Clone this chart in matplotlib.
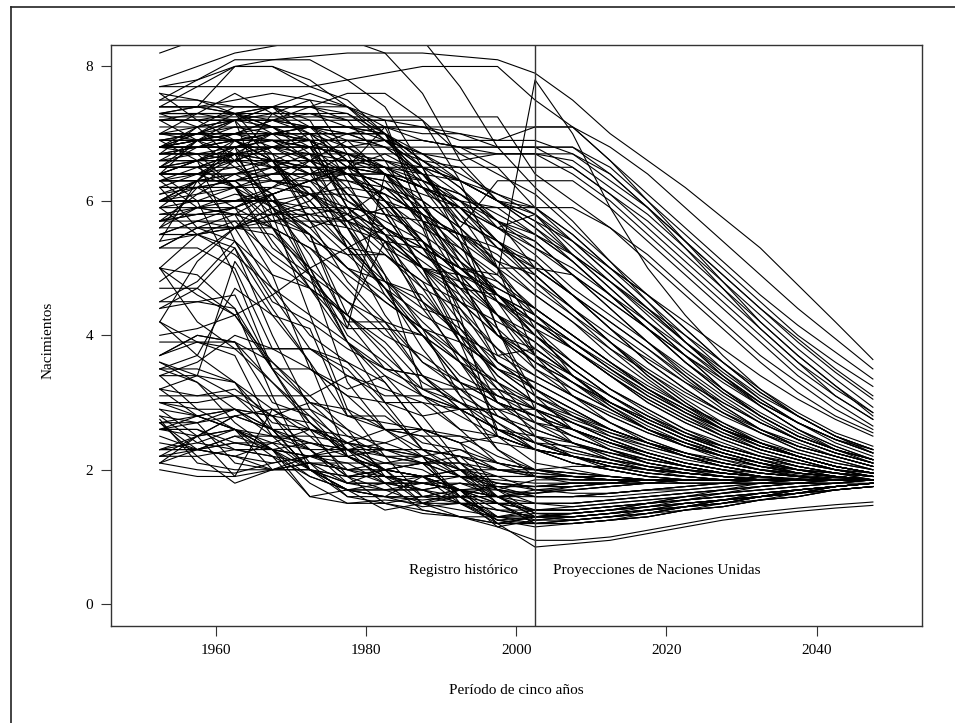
import matplotlib.pyplot as plt
from matplotlib.lines import Line2D

plt.rcParams['font.family'] = ['Liberation Serif', 'DejaVu Serif']

# five-year periods, mid-points (1950-55 ... 2045-50)
periods = [1952.5, 1957.5, 1962.5, 1967.5, 1972.5, 1977.5, 1982.5, 1987.5, 1992.5, 1997.5,
           2002.5, 2007.5, 2012.5, 2017.5, 2022.5, 2027.5, 2032.5, 2037.5, 2042.5, 2047.5]

# births per woman: 11 estimates (1950-2005) followed by 9 projections (2005-2050)
africa = [
    [7.7, 7.8, 8.0, 8.1, 8.15, 8.2, 8.2, 8.2, 8.15, 8.1, 7.9, 7.5, 7.0, 6.6, 6.2, 5.75, 5.3, 4.75, 4.2, 3.64],
    [5.6, 5.6, 5.6, 5.8, 6.0, 6.5, 7.1, 7.1, 7.1, 7.1, 7.1, 7.1, 6.8, 6.4, 5.9, 5.4, 4.9, 4.4, 3.95, 3.5],
    [6.9, 7.0, 7.1, 7.1, 7.1, 7.1, 7.1, 7.1, 6.9, 6.9, 7.1, 7.1, 6.6, 6.1, 5.6, 5.1, 4.6, 4.15, 3.75, 3.35],
    [6.5, 6.6, 6.8, 6.9, 6.9, 6.9, 6.9, 6.9, 6.8, 6.8, 6.8, 6.8, 6.5, 6.0, 5.5, 5.0, 4.5, 4.0, 3.6, 3.24],
    [6.6, 6.7, 6.8, 7.0, 7.1, 7.1, 7.1, 7.0, 7.0, 6.9, 6.9, 6.7, 6.3, 5.9, 5.4, 4.9, 4.4, 3.95, 3.5, 3.1],
    [6.0, 6.0, 6.0, 6.1, 6.3, 6.5, 6.7, 6.7, 6.7, 6.7, 6.7, 6.7, 6.4, 5.9, 5.4, 4.9, 4.4, 3.9, 3.45, 3.05],
    [6.1, 6.2, 6.3, 6.4, 6.6, 6.9, 6.9, 6.7, 6.6, 6.7, 6.7, 6.6, 6.2, 5.8, 5.3, 4.8, 4.3, 3.8, 3.35, 2.93],
    [6.8, 6.9, 7.0, 7.2, 7.3, 7.2, 7.2, 7.1, 7.0, 6.8, 6.8, 6.5, 6.1, 5.7, 5.2, 4.7, 4.2, 3.7, 3.25, 2.85],
    [6.1, 6.3, 6.4, 6.6, 6.8, 7.0, 7.1, 6.9, 6.8, 6.7, 6.7, 6.4, 6.0, 5.5, 5.0, 4.5, 4.0, 3.5, 3.1, 2.75],
    [6.8, 6.8, 6.8, 6.8, 6.8, 6.8, 6.8, 6.8, 6.8, 6.8, 6.8, 6.8, 6.4, 5.9, 5.3, 4.7, 4.1, 3.6, 3.1, 2.75],
    [5.5, 5.7, 5.9, 6.1, 6.3, 6.5, 6.5, 6.5, 6.5, 6.5, 6.5, 6.5, 6.1, 5.6, 5.1, 4.6, 4.1, 3.6, 3.2, 2.85],
    [7.25, 7.25, 7.25, 7.25, 7.25, 7.25, 7.25, 7.25, 7.25, 7.25, 6.4, 6.0, 5.6, 5.1, 4.6, 4.1, 3.6, 3.15, 2.8, 2.55],
    [7.2, 6.9, 6.9, 6.9, 6.8, 6.8, 6.9, 6.9, 6.8, 6.5, 5.9, 5.5, 5.0, 4.5, 4.0, 3.5, 3.05, 2.7, 2.4, 2.2],
    [6.9, 6.9, 6.9, 6.9, 6.9, 6.9, 6.9, 6.7, 6.4, 6.1, 5.8, 5.3, 4.8, 4.3, 3.8, 3.35, 2.95, 2.6, 2.35, 2.15],
    [6.7, 6.8, 6.8, 6.8, 6.8, 6.7, 6.6, 6.3, 6.1, 5.7, 5.0, 4.6, 4.2, 3.8, 3.4, 3.0, 2.7, 2.45, 2.25, 2.1],
    [7.5, 7.8, 8.1, 8.1, 8.1, 7.8, 7.4, 6.5, 5.4, 5.0, 5.0, 4.9, 4.5, 4.1, 3.7, 3.3, 2.95, 2.6, 2.35, 2.15],
    [7.8, 8.0, 8.2, 8.3, 8.4, 8.4, 8.2, 7.6, 6.6, 6.0, 5.7, 5.4, 5.0, 4.6, 4.1, 3.6, 3.15, 2.8, 2.5, 2.25],
    [6.8, 6.9, 7.0, 7.2, 7.4, 7.6, 7.6, 7.2, 6.7, 6.4, 6.1, 5.6, 5.1, 4.6, 4.1, 3.6, 3.15, 2.8, 2.5, 2.3],
    [6.3, 6.3, 6.4, 6.5, 6.5, 6.5, 6.4, 6.3, 6.1, 5.8, 5.5, 5.1, 4.6, 4.1, 3.6, 3.15, 2.8, 2.5, 2.3, 2.15],
    [6.8, 7.0, 7.2, 7.4, 7.4, 7.3, 6.9, 6.5, 6.3, 6.0, 5.7, 5.2, 4.7, 4.2, 3.7, 3.2, 2.8, 2.5, 2.3, 2.15],
    [7.3, 7.3, 7.3, 7.3, 7.3, 7.1, 6.9, 6.5, 6.1, 5.7, 5.4, 4.9, 4.4, 3.9, 3.4, 2.95, 2.6, 2.35, 2.2, 2.05],
    [5.7, 5.8, 5.9, 6.2, 6.4, 6.4, 6.4, 6.2, 5.9, 5.4, 4.9, 4.4, 3.9, 3.45, 3.05, 2.7, 2.4, 2.2, 2.05, 1.95],
    [6.4, 6.9, 6.9, 6.9, 6.9, 6.5, 6.4, 5.8, 5.1, 4.7, 4.4, 4.0, 3.6, 3.2, 2.85, 2.55, 2.3, 2.15, 2.0, 1.9],
    [6.8, 7.1, 7.4, 7.4, 7.4, 7.4, 6.9, 6.4, 5.7, 5.4, 5.1, 4.6, 4.1, 3.6, 3.2, 2.85, 2.55, 2.3, 2.15, 2.0],
    [6.4, 6.6, 6.9, 7.0, 7.0, 7.0, 6.8, 6.4, 5.9, 5.4, 5.0, 4.6, 4.1, 3.7, 3.3, 2.9, 2.6, 2.35, 2.2, 2.05],
    [6.7, 6.7, 6.7, 6.7, 6.7, 6.4, 6.0, 5.6, 5.3, 4.9, 4.4, 4.0, 3.6, 3.2, 2.9, 2.6, 2.35, 2.2, 2.05, 1.95],
    [6.8, 7.0, 7.3, 7.4, 7.4, 7.2, 6.6, 5.7, 4.8, 4.0, 3.6, 3.2, 2.9, 2.6, 2.35, 2.2, 2.05, 1.95, 1.9, 1.85],
    [6.5, 6.5, 6.2, 5.7, 5.5, 5.0, 4.6, 4.0, 3.3, 3.0, 2.8, 2.6, 2.4, 2.25, 2.1, 2.0, 1.95, 1.9, 1.88, 1.85],
    [6.5, 6.6, 6.7, 6.6, 6.5, 6.4, 6.1, 5.4, 4.4, 3.8, 3.2, 2.9, 2.6, 2.4, 2.2, 2.05, 1.95, 1.9, 1.85, 1.85],
    [5.8, 5.8, 5.8, 5.8, 5.8, 5.7, 5.5, 5.1, 4.7, 4.3, 3.8, 3.4, 3.0, 2.7, 2.45, 2.25, 2.1, 2.0, 1.95, 1.9],
    [6.0, 6.0, 6.0, 6.2, 6.6, 6.6, 6.0, 5.4, 4.9, 4.3, 3.9, 3.4, 3.0, 2.7, 2.45, 2.25, 2.1, 1.95, 1.9, 1.85],
    [6.8, 6.8, 7.0, 7.1, 7.1, 7.1, 7.0, 6.7, 6.3, 6.0, 5.9, 5.4, 4.9, 4.4, 3.9, 3.45, 3.05, 2.7, 2.45, 2.25],
    [7.0, 7.0, 7.0, 7.0, 7.0, 7.0, 7.0, 6.6, 6.3, 6.0, 5.8, 5.4, 4.9, 4.4, 3.9, 3.4, 3.0, 2.7, 2.45, 2.25],
    [6.8, 6.9, 7.1, 7.1, 7.1, 7.1, 7.0, 6.6, 6.2, 5.6, 5.4, 4.9, 4.4, 3.9, 3.45, 3.05, 2.7, 2.45, 2.25, 2.1],
    [7.0, 7.0, 7.0, 6.8, 6.6, 6.6, 6.5, 6.2, 6.0, 5.9, 5.5, 5.1, 4.6, 4.1, 3.6, 3.2, 2.8, 2.5, 2.3, 2.15],
    [5.5, 5.5, 5.6, 5.7, 5.8, 5.9, 5.8, 5.7, 5.5, 5.3, 5.0, 4.6, 4.2, 3.8, 3.35, 2.95, 2.6, 2.35, 2.2, 2.05],
    [4.0, 4.1, 4.3, 4.6, 5.0, 5.3, 5.6, 5.3, 5.0, 4.6, 4.0, 3.6, 3.2, 2.9, 2.6, 2.35, 2.2, 2.05, 1.95, 1.9],
    [6.3, 6.4, 6.5, 6.6, 6.6, 6.4, 6.3, 6.1, 5.9, 5.6, 5.8, 5.2, 4.7, 4.2, 3.7, 3.2, 2.85, 2.55, 2.3, 2.15],
    [5.7, 5.8, 5.9, 6.1, 6.3, 6.3, 6.2, 6.0, 5.6, 6.3, 6.3, 6.3, 5.9, 5.4, 4.9, 4.4, 3.9, 3.4, 3.0, 2.65],
    [5.3, 5.6, 5.8, 6.1, 6.3, 6.4, 6.4, 6.2, 6.0, 5.6, 5.2, 4.7, 4.3, 3.9, 3.5, 3.1, 2.75, 2.45, 2.25, 2.1],
    [5.5, 5.5, 5.7, 5.7, 5.7, 5.7, 5.9, 5.9, 5.9, 5.9, 5.9, 5.9, 5.6, 5.2, 4.7, 4.2, 3.7, 3.3, 2.9, 2.6],
    [6.9, 6.9, 6.9, 6.9, 6.9, 6.5, 6.2, 5.7, 5.0, 4.5, 4.0, 3.5, 3.1, 2.75, 2.5, 2.3, 2.15, 2.0, 1.9, 1.85],
    [6.3, 5.9, 5.8, 4.9, 3.5, 3.1, 2.6, 2.2, 2.3, 2.0, 1.95, 1.9, 1.85, 1.85, 1.85, 1.85, 1.85, 1.85, 1.85, 1.85],
    [6.6, 6.9, 7.0, 7.0, 7.0, 6.6, 6.0, 5.3, 4.7, 4.0, 3.8, 3.4, 3.0, 2.7, 2.45, 2.25, 2.1, 1.95, 1.9, 1.85],
    [6.0, 6.3, 6.9, 7.0, 7.1, 7.0, 7.0, 6.3, 5.6, 5.1, 4.9, 4.4, 3.9, 3.4, 3.0, 2.65, 2.4, 2.2, 2.05, 1.95],
    [6.3, 6.5, 6.7, 6.8, 6.7, 6.6, 6.4, 6.2, 5.9, 5.3, 5.1, 4.6, 4.1, 3.6, 3.2, 2.85, 2.55, 2.3, 2.15, 2.0],
    [6.2, 6.2, 6.3, 6.5, 6.5, 6.5, 6.2, 5.9, 5.4, 4.6, 4.1, 3.8, 3.4, 3.05, 2.75, 2.5, 2.3, 2.15, 2.0, 1.9],
    [6.6, 6.6, 6.6, 6.6, 6.6, 6.6, 6.6, 6.5, 6.3, 6.1, 5.9, 5.5, 5.0, 4.6, 4.2, 3.8, 3.4, 3.05, 2.75, 2.5],
    [6.2, 6.4, 6.6, 6.8, 6.9, 6.9, 6.8, 6.6, 6.2, 5.7, 5.3, 4.9, 4.5, 4.1, 3.7, 3.35, 3.0, 2.7, 2.45, 2.25],
    [7.0, 7.1, 7.2, 7.2, 7.1, 7.0, 6.8, 6.4, 6.0, 5.4, 4.8, 4.4, 4.0, 3.65, 3.3, 3.0, 2.7, 2.45, 2.25, 2.1],
    [6.0, 6.1, 6.2, 6.4, 6.4, 6.5, 6.5, 6.4, 6.3, 6.0, 5.6, 5.2, 4.8, 4.35, 3.9, 3.5, 3.1, 2.8, 2.5, 2.3],
    [5.8, 5.9, 6.0, 6.0, 6.1, 6.1, 6.0, 5.8, 5.5, 5.2, 4.7, 4.3, 3.9, 3.5, 3.15, 2.85, 2.6, 2.4, 2.2, 2.05],
    [7.1, 7.1, 7.1, 7.0, 6.9, 6.7, 6.5, 6.2, 5.9, 5.6, 5.3, 5.0, 4.6, 4.2, 3.8, 3.4, 3.0, 2.7, 2.45, 2.3],
    [6.9, 6.9, 6.9, 6.9, 6.8, 6.7, 6.5, 6.3, 6.0, 5.7, 5.5, 5.2, 4.8, 4.4, 4.0, 3.6, 3.2, 2.85, 2.55, 2.35],
    [6.3, 6.3, 6.3, 6.4, 6.4, 6.3, 6.1, 5.8, 5.5, 5.1, 4.6, 4.2, 3.8, 3.45, 3.1, 2.8, 2.55, 2.35, 2.2, 2.05],
    [5.4, 5.5, 5.6, 5.8, 5.9, 5.9, 5.8, 5.5, 5.1, 4.6, 4.2, 3.8, 3.45, 3.1, 2.8, 2.55, 2.35, 2.2, 2.05, 1.95],
    [4.8, 5.2, 5.6, 5.9, 6.1, 6.2, 6.1, 5.8, 5.3, 4.8, 4.4, 4.0, 3.6, 3.25, 2.95, 2.7, 2.45, 2.25, 2.1, 2.0],
    [6.6, 6.6, 6.6, 6.5, 6.3, 6.0, 5.7, 5.4, 5.0, 4.6, 4.3, 3.9, 3.5, 3.15, 2.85, 2.6, 2.4, 2.25, 2.1, 2.0],
]

west_south_asia = [
    [8.2, 8.4, 8.5, 8.6, 8.7, 8.7, 8.7, 8.4, 7.7, 6.8, 6.2, 5.7, 5.1, 4.5, 3.9, 3.4, 2.95, 2.6, 2.3, 2.1],
    [7.7, 7.7, 7.7, 7.7, 7.7, 7.8, 7.9, 8.0, 8.0, 8.0, 7.5, 7.1, 6.6, 6.0, 5.4, 4.8, 4.2, 3.7, 3.25, 2.8],
    [7.2, 7.2, 7.2, 7.3, 7.3, 7.3, 7.0, 6.2, 5.5, 4.5, 4.1, 3.4, 2.95, 2.6, 2.35, 2.15, 2.0, 1.9, 1.85, 1.85],
    [7.2, 7.2, 7.2, 7.2, 7.2, 7.2, 7.2, 7.2, 6.3, 5.0, 3.7, 3.1, 2.7, 2.4, 2.2, 2.05, 1.95, 1.9, 1.85, 1.85],
    [7.4, 7.7, 8.0, 8.0, 7.8, 7.4, 7.0, 6.0, 5.1, 4.3, 3.5, 3.1, 2.8, 2.55, 2.35, 2.2, 2.05, 1.95, 1.9, 1.85],
    [7.3, 7.4, 7.5, 7.6, 7.5, 7.4, 7.1, 6.0, 4.8, 4.0, 3.5, 3.2, 2.9, 2.6, 2.4, 2.2, 2.05, 1.95, 1.9, 1.85],
    [7.3, 7.3, 7.2, 7.2, 7.1, 6.8, 6.4, 6.2, 5.7, 5.4, 4.9, 4.4, 3.9, 3.4, 3.0, 2.65, 2.4, 2.2, 2.05, 1.95],
    [7.0, 7.0, 6.9, 6.7, 6.4, 6.5, 6.4, 5.6, 4.3, 2.5, 2.1, 2.0, 1.9, 1.85, 1.8, 1.8, 1.8, 1.8, 1.8, 1.85],
    [6.6, 6.6, 6.6, 6.6, 6.6, 6.6, 6.6, 6.4, 5.8, 5.0, 4.3, 3.9, 3.5, 3.15, 2.85, 2.6, 2.4, 2.2, 2.05, 1.95],
    [6.4, 6.6, 6.8, 6.9, 6.6, 6.4, 5.9, 5.0, 4.0, 3.5, 3.2, 2.8, 2.5, 2.3, 2.15, 2.05, 1.95, 1.9, 1.85, 1.85],
    [5.9, 5.9, 5.8, 5.6, 5.3, 4.9, 4.5, 4.1, 3.9, 3.5, 3.1, 2.8, 2.55, 2.35, 2.2, 2.05, 1.95, 1.9, 1.85, 1.85],
    [6.0, 6.0, 6.0, 6.0, 5.9, 5.8, 5.6, 5.3, 5.0, 4.5, 3.7, 3.3, 2.95, 2.65, 2.4, 2.2, 2.05, 1.95, 1.9, 1.85],
    [6.4, 6.6, 6.7, 6.6, 5.9, 5.3, 5.2, 4.7, 3.9, 3.5, 3.3, 3.0, 2.7, 2.45, 2.25, 2.1, 2.0, 1.92, 1.88, 1.85],
    [7.2, 7.2, 7.2, 7.1, 6.9, 5.9, 5.4, 4.4, 3.7, 3.0, 2.8, 2.5, 2.3, 2.15, 2.05, 1.95, 1.9, 1.85, 1.85, 1.85],
    [7.3, 7.4, 7.4, 7.4, 7.2, 6.3, 5.3, 4.5, 3.6, 2.8, 2.5, 2.4, 2.25, 2.1, 2.0, 1.95, 1.9, 1.85, 1.85, 1.85],
    [6.9, 7.0, 7.2, 6.6, 5.7, 5.6, 4.9, 4.1, 3.1, 2.3, 2.0, 1.9, 1.85, 1.8, 1.8, 1.8, 1.8, 1.8, 1.8, 1.8],
    [6.9, 6.9, 7.2, 7.4, 7.6, 7.4, 7.2, 5.7, 4.1, 3.4, 3.0, 2.7, 2.45, 2.25, 2.1, 2.0, 1.9, 1.85, 1.85, 1.85],
    [7.2, 7.2, 7.3, 7.4, 6.9, 5.9, 4.9, 3.2, 3.2, 2.9, 2.4, 2.2, 2.1, 2.0, 1.95, 1.9, 1.85, 1.85, 1.85, 1.85],
    [7.0, 7.0, 6.9, 6.6, 6.4, 5.7, 5.2, 4.8, 3.9, 3.2, 2.5, 2.3, 2.15, 2.05, 1.95, 1.9, 1.85, 1.85, 1.85, 1.85],
    [7.0, 7.0, 7.0, 6.9, 6.8, 6.1, 5.5, 4.5, 4.0, 3.4, 3.0, 2.7, 2.45, 2.25, 2.1, 2.0, 1.9, 1.85, 1.85, 1.85],
    [7.4, 7.4, 8.0, 8.0, 7.7, 7.5, 7.0, 6.6, 6.5, 6.0, 5.6, 5.1, 4.6, 4.1, 3.6, 3.15, 2.8, 2.5, 2.3, 2.15],
    [7.0, 7.0, 7.0, 7.0, 7.0, 7.0, 7.0, 6.5, 5.6, 4.1, 3.1, 2.6, 2.3, 2.1, 2.0, 1.9, 1.85, 1.85, 1.85, 1.85],
    [6.7, 6.7, 6.7, 6.7, 6.7, 6.7, 6.4, 5.9, 5.4, 4.1, 2.9, 2.4, 2.15, 2.0, 1.9, 1.85, 1.85, 1.85, 1.85, 1.85],
    [6.9, 6.6, 6.2, 5.6, 5.0, 4.5, 4.2, 3.4, 2.9, 2.6, 2.5, 2.3, 2.15, 2.05, 1.95, 1.9, 1.85, 1.85, 1.85, 1.85],
    [5.7, 5.7, 5.7, 5.2, 4.8, 4.3, 3.9, 3.3, 3.0, 2.7, 2.3, 2.2, 2.1, 2.0, 1.95, 1.9, 1.85, 1.85, 1.85, 1.85],
    [4.2, 3.9, 3.8, 3.8, 3.8, 3.4, 3.1, 3.1, 2.9, 2.9, 2.9, 2.7, 2.5, 2.35, 2.2, 2.1, 2.0, 1.95, 1.9, 1.85],
    [6.0, 6.3, 6.7, 6.8, 6.8, 5.9, 5.5, 5.4, 4.9, 3.7, 3.8, 3.4, 3.0, 2.7, 2.45, 2.25, 2.1, 2.0, 1.9, 1.85],
    [5.9, 6.3, 6.3, 6.3, 6.3, 5.7, 4.8, 4.4, 4.2, 3.3, 2.7, 2.4, 2.2, 2.05, 1.95, 1.9, 1.85, 1.85, 1.85, 1.85],
    [4.4, 4.5, 4.6, 3.5, 3.5, 3.1, 3.0, 3.0, 2.6, 2.1, 1.9, 1.9, 1.85, 1.85, 1.85, 1.85, 1.85, 1.85, 1.85, 1.85],
    [4.5, 4.8, 5.4, 4.9, 4.7, 4.1, 4.1, 4.0, 3.6, 3.0, 2.6, 2.4, 2.2, 2.05, 1.95, 1.9, 1.85, 1.85, 1.85, 1.85],
    [6.0, 6.3, 6.8, 6.3, 6.2, 5.3, 4.8, 4.6, 4.0, 3.0, 2.8, 2.5, 2.3, 2.1, 2.0, 1.9, 1.85, 1.85, 1.85, 1.85],
    [5.3, 5.6, 5.4, 4.6, 3.8, 3.6, 3.0, 2.8, 2.9, 2.3, 1.9, 1.8, 1.8, 1.8, 1.8, 1.8, 1.8, 1.8, 1.8, 1.85],
    [4.5, 4.5, 4.4, 3.5, 3.0, 2.5, 2.4, 2.6, 2.4, 1.7, 1.35, 1.35, 1.4, 1.5, 1.6, 1.65, 1.7, 1.75, 1.8, 1.85],
    [3.0, 2.9, 2.9, 2.6, 2.6, 2.4, 2.3, 2.3, 2.2, 1.7, 1.5, 1.45, 1.5, 1.55, 1.6, 1.65, 1.7, 1.75, 1.8, 1.85],
    [7.4, 7.4, 7.3, 7.2, 7.0, 6.6, 6.0, 5.3, 4.5, 4.0, 3.7, 3.4, 3.1, 2.8, 2.55, 2.35, 2.2, 2.05, 1.95, 1.9],
    [5.9, 6.0, 6.2, 6.3, 6.1, 5.8, 5.4, 5.0, 4.6, 4.1, 3.6, 3.3, 3.0, 2.75, 2.5, 2.3, 2.15, 2.05, 1.95, 1.9],
    [7.2, 7.3, 7.3, 7.1, 6.7, 6.2, 5.6, 4.9, 4.2, 3.5, 3.1, 2.85, 2.6, 2.4, 2.25, 2.1, 2.0, 1.95, 1.9, 1.85],
    [6.0, 6.0, 6.0, 6.0, 5.6, 5.0, 4.5, 4.1, 3.7, 3.3, 3.0, 2.75, 2.55, 2.4, 2.25, 2.15, 2.05, 2.0, 1.95, 1.9],
]

east_asia_pacific = [
    [6.4, 6.4, 6.2, 5.9, 5.5, 4.3, 5.4, 5.3, 5.0, 4.9, 7.8, 7.0, 5.9, 5.0, 4.3, 3.7, 3.2, 2.8, 2.5, 2.3],
    [6.2, 5.6, 5.6, 6.1, 4.9, 3.3, 2.6, 2.5, 2.0, 1.8, 1.7, 1.7, 1.75, 1.8, 1.85, 1.85, 1.85, 1.85, 1.85, 1.85],
    [2.75, 2.1, 2.0, 2.0, 2.1, 1.8, 1.8, 1.7, 1.5, 1.4, 1.3, 1.35, 1.4, 1.5, 1.6, 1.7, 1.8, 1.85, 1.85, 1.85],
    [5.4, 6.3, 5.6, 4.7, 4.3, 2.9, 2.2, 1.6, 1.7, 1.5, 1.2, 1.2, 1.25, 1.35, 1.45, 1.55, 1.65, 1.7, 1.75, 1.8],
    [3.4, 3.4, 5.1, 4.3, 4.1, 2.8, 2.8, 2.4, 2.3, 2.1, 2.0, 1.95, 1.9, 1.85, 1.85, 1.85, 1.85, 1.85, 1.85, 1.85],
    [5.5, 5.7, 5.6, 5.6, 5.3, 4.7, 4.1, 3.4, 2.9, 2.6, 2.4, 2.2, 2.05, 1.95, 1.9, 1.85, 1.85, 1.85, 1.85, 1.85],
    [7.3, 7.1, 6.6, 6.0, 5.5, 5.0, 4.8, 4.5, 4.1, 3.6, 3.2, 2.9, 2.6, 2.4, 2.2, 2.05, 1.95, 1.9, 1.85, 1.85],
    [5.7, 6.1, 6.4, 6.5, 6.7, 5.6, 4.6, 4.0, 3.3, 2.5, 2.3, 2.1, 2.0, 1.9, 1.85, 1.85, 1.85, 1.85, 1.85, 1.85],
    [6.4, 6.4, 6.4, 6.1, 5.0, 3.9, 3.0, 2.3, 2.0, 1.9, 1.9, 1.85, 1.85, 1.85, 1.85, 1.85, 1.85, 1.85, 1.85, 1.85],
    [6.8, 6.9, 6.7, 5.9, 5.2, 4.2, 4.2, 4.0, 3.6, 3.3, 2.9, 2.6, 2.35, 2.2, 2.05, 1.95, 1.9, 1.85, 1.85, 1.85],
    [6.0, 6.0, 6.0, 6.0, 5.8, 5.3, 4.7, 3.8, 3.1, 2.8, 2.5, 2.2, 2.0, 1.9, 1.85, 1.85, 1.85, 1.85, 1.85, 1.85],
    [6.3, 6.3, 6.3, 5.8, 5.5, 4.1, 6.4, 6.0, 5.6, 5.0, 4.1, 3.6, 3.2, 2.85, 2.55, 2.3, 2.15, 2.0, 1.9, 1.85],
    [6.4, 6.4, 6.4, 6.4, 6.4, 6.7, 6.7, 6.4, 5.8, 5.3, 4.8, 4.3, 3.8, 3.35, 2.95, 2.6, 2.35, 2.2, 2.05, 1.95],
    [6.0, 6.2, 6.6, 7.3, 7.5, 6.7, 5.8, 5.0, 3.9, 2.6, 2.3, 2.1, 2.0, 1.9, 1.85, 1.85, 1.85, 1.85, 1.85, 1.85],
    [6.4, 6.0, 4.9, 3.5, 2.6, 1.9, 1.7, 1.7, 1.8, 1.6, 1.35, 1.3, 1.35, 1.45, 1.55, 1.65, 1.75, 1.8, 1.85, 1.85],
    [4.4, 4.7, 5.3, 4.0, 2.9, 2.3, 1.8, 1.4, 1.3, 1.15, 0.95, 0.95, 1.0, 1.1, 1.2, 1.3, 1.37, 1.43, 1.48, 1.52],
    [5.0, 4.9, 4.4, 3.1, 2.0, 1.8, 2.0, 1.9, 1.7, 1.2, 0.85, 0.9, 0.95, 1.05, 1.15, 1.25, 1.32, 1.38, 1.43, 1.47],
    [5.9, 5.5, 5.2, 4.7, 4.0, 3.6, 3.3, 2.6, 2.4, 2.1, 2.0, 1.95, 1.9, 1.85, 1.85, 1.85, 1.85, 1.85, 1.85, 1.85],
    [6.2, 6.2, 6.2, 6.2, 6.1, 5.9, 5.5, 5.0, 4.7, 4.6, 4.3, 3.8, 3.4, 3.0, 2.7, 2.45, 2.25, 2.1, 2.0, 1.9],
    [7.0, 7.3, 7.6, 7.3, 7.0, 6.0, 5.6, 5.2, 4.9, 4.7, 4.4, 4.0, 3.6, 3.2, 2.9, 2.6, 2.35, 2.2, 2.05, 1.95],
    [6.4, 6.4, 6.7, 7.0, 7.1, 6.9, 6.4, 5.8, 5.0, 4.8, 4.3, 3.9, 3.5, 3.1, 2.8, 2.5, 2.3, 2.15, 2.0, 1.9],
    [6.6, 6.6, 5.4, 4.5, 4.2, 3.8, 3.5, 3.4, 3.2, 3.2, 3.0, 2.8, 2.6, 2.4, 2.25, 2.1, 2.0, 1.95, 1.9, 1.85],
    [7.6, 7.2, 6.9, 6.5, 6.1, 5.7, 5.4, 5.0, 4.9, 4.6, 4.2, 3.8, 3.4, 3.0, 2.7, 2.45, 2.25, 2.1, 2.0, 1.9],
    [6.7, 6.8, 6.9, 6.9, 6.6, 6.1, 5.6, 5.2, 4.8, 4.5, 4.2, 3.9, 3.55, 3.2, 2.9, 2.6, 2.4, 2.2, 2.05, 1.95],
    [7.6, 7.5, 7.3, 7.0, 6.6, 6.1, 5.5, 5.0, 4.5, 4.0, 3.6, 3.3, 3.0, 2.75, 2.5, 2.35, 2.2, 2.1, 2.0, 1.95],
]

latin_america = [
    [6.2, 6.2, 6.2, 5.4, 4.7, 4.3, 3.8, 3.1, 2.6, 2.5, 2.3, 2.2, 2.05, 1.95, 1.9, 1.85, 1.85, 1.85, 1.85, 1.85],
    [6.8, 6.8, 6.8, 6.8, 6.5, 5.3, 4.3, 3.6, 3.2, 2.7, 2.4, 2.2, 2.05, 1.95, 1.9, 1.85, 1.85, 1.85, 1.85, 1.85],
    [3.2, 3.1, 3.1, 3.1, 3.1, 3.4, 3.2, 3.0, 2.9, 2.6, 2.4, 2.25, 2.15, 2.05, 2.0, 1.95, 1.9, 1.87, 1.85, 1.85],
    [6.8, 6.8, 6.8, 5.6, 4.7, 4.3, 3.7, 3.2, 3.0, 2.8, 2.6, 2.4, 2.25, 2.1, 2.0, 1.95, 1.9, 1.85, 1.85, 1.85],
    [6.9, 6.9, 6.9, 6.6, 6.0, 5.4, 4.7, 4.1, 3.6, 3.1, 2.9, 2.6, 2.4, 2.2, 2.05, 1.95, 1.9, 1.85, 1.85, 1.85],
    [6.5, 6.5, 6.7, 5.9, 4.9, 4.5, 4.0, 3.7, 3.3, 3.0, 2.7, 2.5, 2.3, 2.15, 2.05, 1.95, 1.9, 1.85, 1.85, 1.85],
    [5.0, 5.5, 5.3, 4.4, 3.6, 2.8, 2.7, 2.6, 2.5, 2.2, 2.0, 1.95, 1.9, 1.85, 1.85, 1.85, 1.85, 1.85, 1.85, 1.85],
    [4.2, 3.7, 4.7, 4.3, 3.6, 2.2, 1.9, 1.8, 1.7, 1.6, 1.6, 1.6, 1.65, 1.7, 1.75, 1.8, 1.85, 1.85, 1.85, 1.85],
    [7.0, 6.9, 6.9, 6.6, 6.4, 6.4, 6.3, 5.7, 5.5, 5.0, 4.6, 4.2, 3.7, 3.3, 2.95, 2.65, 2.4, 2.2, 2.05, 1.95],
    [7.5, 7.5, 7.4, 7.4, 7.1, 6.6, 6.0, 5.4, 4.9, 4.3, 3.7, 3.3, 2.9, 2.6, 2.4, 2.2, 2.05, 1.95, 1.9, 1.85],
    [7.3, 7.3, 7.3, 7.1, 6.8, 6.4, 5.9, 5.4, 4.6, 3.6, 3.3, 3.0, 2.7, 2.45, 2.25, 2.1, 2.0, 1.9, 1.85, 1.85],
    [6.8, 6.7, 6.6, 6.6, 6.5, 5.8, 5.3, 5.0, 4.8, 4.3, 4.0, 3.5, 3.1, 2.8, 2.5, 2.3, 2.15, 2.0, 1.9, 1.85],
    [6.3, 6.3, 6.3, 5.9, 5.6, 5.8, 6.2, 5.7, 5.2, 4.6, 4.0, 3.6, 3.2, 2.9, 2.6, 2.4, 2.2, 2.05, 1.95, 1.85],
    [6.5, 6.5, 6.5, 6.1, 5.4, 5.2, 5.2, 4.8, 4.5, 4.2, 3.9, 3.5, 3.1, 2.8, 2.55, 2.35, 2.2, 2.05, 1.95, 1.85],
    [6.7, 6.7, 6.7, 6.5, 6.0, 5.4, 4.7, 4.0, 3.4, 3.1, 2.8, 2.6, 2.4, 2.2, 2.05, 1.95, 1.9, 1.85, 1.85, 1.85],
    [7.4, 7.4, 7.3, 6.7, 5.7, 4.8, 4.2, 3.6, 3.3, 3.1, 2.9, 2.7, 2.45, 2.25, 2.1, 2.0, 1.9, 1.85, 1.85, 1.85],
    [6.5, 6.8, 6.9, 6.6, 6.1, 5.6, 4.8, 4.2, 3.7, 3.2, 2.9, 2.6, 2.4, 2.2, 2.05, 1.95, 1.9, 1.85, 1.85, 1.85],
    [2.7, 2.8, 2.9, 2.8, 3.0, 2.9, 2.6, 2.5, 2.5, 2.4, 2.3, 2.2, 2.1, 2.0, 1.95, 1.9, 1.88, 1.85, 1.85, 1.85],
    [6.7, 7.1, 7.2, 5.8, 4.3, 3.9, 3.5, 3.4, 3.0, 2.6, 2.3, 2.2, 2.05, 1.95, 1.9, 1.85, 1.85, 1.85, 1.85, 1.85],
    [5.7, 5.9, 5.9, 5.6, 4.9, 4.2, 3.5, 3.2, 2.9, 2.9, 2.7, 2.6, 2.4, 2.25, 2.1, 2.0, 1.9, 1.85, 1.85, 1.85],
    [4.2, 5.1, 5.6, 5.5, 5.0, 4.0, 3.6, 3.1, 2.9, 2.6, 2.4, 2.35, 2.25, 2.15, 2.05, 1.95, 1.9, 1.85, 1.85, 1.85],
    [5.3, 5.3, 5.0, 3.8, 3.5, 3.2, 3.4, 2.8, 2.1, 1.7, 1.6, 1.6, 1.65, 1.7, 1.75, 1.8, 1.85, 1.85, 1.85, 1.85],
    [5.0, 4.6, 4.3, 3.6, 3.0, 2.8, 2.6, 2.3, 2.2, 2.0, 1.9, 1.85, 1.85, 1.85, 1.85, 1.85, 1.85, 1.85, 1.85, 1.85],
    [6.7, 6.7, 6.2, 5.3, 4.9, 3.9, 3.3, 2.6, 2.4, 2.5, 2.3, 2.2, 2.1, 2.0, 1.95, 1.9, 1.85, 1.85, 1.85, 1.85],
    [6.5, 6.9, 6.5, 6.3, 6.2, 5.6, 5.4, 4.7, 4.4, 3.6, 3.2, 2.9, 2.6, 2.4, 2.2, 2.05, 1.95, 1.9, 1.85, 1.85],
    [4.7, 4.7, 4.3, 3.5, 2.7, 2.2, 1.9, 1.8, 1.7, 1.5, 1.5, 1.5, 1.55, 1.6, 1.65, 1.7, 1.75, 1.8, 1.85, 1.85],
    [6.8, 6.8, 6.9, 7.0, 6.9, 6.5, 5.8, 5.0, 4.3, 3.8, 3.4, 3.1, 2.8, 2.55, 2.35, 2.2, 2.1, 2.0, 1.95, 1.9],
    [5.6, 5.9, 6.1, 6.0, 5.7, 5.2, 4.7, 4.3, 4.0, 3.7, 3.4, 3.1, 2.85, 2.6, 2.4, 2.25, 2.1, 2.0, 1.95, 1.9],
    [6.5, 6.5, 6.6, 6.8, 7.0, 6.8, 6.5, 5.9, 5.2, 4.6, 4.2, 3.8, 3.4, 3.05, 2.75, 2.5, 2.3, 2.15, 2.0, 1.95],
]

europe_north_america = [
    [3.5, 3.7, 3.3, 2.5, 2.0, 1.8, 1.8, 1.9, 2.0, 2.0, 2.0, 2.05, 2.05, 2.0, 1.95, 1.9, 1.85, 1.85, 1.85, 1.85],
    [3.7, 3.9, 3.7, 2.6, 2.0, 1.7, 1.6, 1.6, 1.7, 1.6, 1.5, 1.5, 1.55, 1.6, 1.65, 1.7, 1.75, 1.8, 1.85, 1.85],
    [3.2, 3.4, 3.3, 2.9, 2.5, 2.0, 1.9, 1.9, 1.9, 1.8, 1.75, 1.8, 1.8, 1.85, 1.85, 1.85, 1.85, 1.85, 1.85, 1.85],
    [3.7, 4.0, 3.9, 3.0, 2.8, 2.2, 2.0, 2.1, 2.1, 2.0, 1.95, 1.9, 1.85, 1.85, 1.85, 1.85, 1.85, 1.85, 1.85, 1.85],
    [3.4, 3.6, 4.0, 3.8, 3.8, 3.5, 2.9, 2.3, 1.9, 1.9, 1.9, 1.9, 1.85, 1.85, 1.85, 1.85, 1.85, 1.85, 1.85, 1.85],
    [2.2, 2.5, 2.8, 2.6, 2.0, 1.7, 1.8, 1.8, 1.8, 1.7, 1.65, 1.7, 1.75, 1.8, 1.85, 1.85, 1.85, 1.85, 1.85, 1.85],
    [2.7, 2.7, 2.9, 2.6, 2.3, 1.9, 1.9, 1.8, 1.7, 1.7, 1.85, 1.85, 1.85, 1.85, 1.85, 1.85, 1.85, 1.85, 1.85, 1.85],
    [2.2, 2.3, 2.5, 2.3, 1.6, 1.5, 1.5, 1.4, 1.3, 1.3, 1.35, 1.35, 1.4, 1.45, 1.5, 1.55, 1.6, 1.65, 1.7, 1.75],
    [2.3, 2.3, 2.5, 2.5, 2.3, 1.9, 1.5, 1.35, 1.3, 1.2, 1.3, 1.35, 1.4, 1.45, 1.5, 1.55, 1.65, 1.7, 1.75, 1.8],
    [2.6, 2.7, 2.8, 2.9, 2.9, 2.6, 1.9, 1.5, 1.3, 1.2, 1.3, 1.35, 1.4, 1.45, 1.5, 1.55, 1.6, 1.7, 1.75, 1.8],
    [3.0, 3.0, 3.1, 2.8, 2.7, 2.3, 2.0, 1.6, 1.5, 1.5, 1.5, 1.5, 1.55, 1.6, 1.65, 1.7, 1.75, 1.8, 1.85, 1.85],
    [2.3, 2.3, 2.2, 2.4, 2.3, 2.3, 2.0, 1.5, 1.4, 1.3, 1.25, 1.3, 1.35, 1.4, 1.5, 1.55, 1.6, 1.7, 1.75, 1.8],
    [2.2, 2.2, 2.3, 2.2, 1.9, 1.7, 1.6, 1.9, 2.0, 1.6, 1.65, 1.75, 1.8, 1.85, 1.85, 1.85, 1.85, 1.85, 1.85, 1.85],
    [2.6, 2.8, 2.9, 2.8, 2.3, 1.8, 1.7, 1.8, 1.9, 1.85, 1.8, 1.8, 1.8, 1.85, 1.85, 1.85, 1.85, 1.85, 1.85, 1.85],
    [3.1, 3.1, 3.2, 2.8, 2.1, 1.6, 1.5, 1.6, 1.6, 1.6, 1.7, 1.75, 1.8, 1.85, 1.85, 1.85, 1.85, 1.85, 1.85, 1.85],
    [2.9, 2.8, 2.6, 2.0, 2.0, 1.9, 2.0, 2.1, 1.6, 1.25, 1.3, 1.35, 1.4, 1.45, 1.5, 1.55, 1.6, 1.65, 1.7, 1.75],
    [2.8, 2.7, 2.1, 2.0, 2.1, 2.0, 2.0, 1.9, 1.6, 1.25, 1.15, 1.2, 1.25, 1.3, 1.4, 1.45, 1.55, 1.6, 1.7, 1.75],
    [3.6, 3.3, 2.7, 2.3, 2.2, 2.3, 2.3, 2.2, 1.9, 1.5, 1.25, 1.25, 1.3, 1.35, 1.45, 1.5, 1.6, 1.65, 1.75, 1.8],
    [2.7, 2.3, 2.2, 2.0, 2.2, 2.4, 2.0, 1.9, 1.7, 1.2, 1.2, 1.25, 1.3, 1.4, 1.45, 1.55, 1.6, 1.7, 1.75, 1.8],
    [2.7, 2.2, 1.8, 2.0, 2.1, 2.1, 1.8, 1.8, 1.7, 1.4, 1.3, 1.3, 1.35, 1.4, 1.5, 1.55, 1.6, 1.7, 1.75, 1.8],
    [2.9, 2.5, 1.9, 2.9, 2.6, 2.5, 2.2, 2.2, 1.5, 1.3, 1.3, 1.3, 1.35, 1.4, 1.45, 1.55, 1.6, 1.65, 1.75, 1.8],
    [2.5, 2.3, 2.2, 2.1, 2.2, 2.2, 2.0, 1.9, 1.5, 1.2, 1.2, 1.25, 1.3, 1.35, 1.45, 1.5, 1.6, 1.65, 1.75, 1.8],
    [2.6, 2.6, 2.3, 2.2, 2.1, 2.0, 2.1, 2.0, 1.7, 1.3, 1.2, 1.2, 1.25, 1.3, 1.4, 1.45, 1.55, 1.6, 1.7, 1.75],
    [2.0, 1.9, 1.9, 2.0, 2.0, 1.9, 2.0, 2.1, 1.6, 1.15, 1.25, 1.3, 1.35, 1.4, 1.45, 1.5, 1.6, 1.65, 1.75, 1.8],
    [2.1, 2.0, 1.95, 2.1, 2.2, 2.1, 2.1, 2.2, 1.6, 1.3, 1.4, 1.45, 1.5, 1.55, 1.6, 1.65, 1.7, 1.75, 1.8, 1.85],
    [2.1, 2.5, 2.8, 2.6, 2.0, 1.6, 1.6, 1.45, 1.5, 1.4, 1.4, 1.4, 1.45, 1.5, 1.55, 1.6, 1.65, 1.7, 1.75, 1.8],
    [2.3, 2.4, 2.6, 2.3, 1.8, 1.5, 1.55, 1.5, 1.5, 1.5, 1.4, 1.4, 1.45, 1.5, 1.55, 1.6, 1.65, 1.7, 1.75, 1.8],
    [2.6, 2.5, 2.6, 2.3, 2.0, 1.7, 1.4, 1.5, 1.7, 1.75, 1.75, 1.8, 1.8, 1.85, 1.85, 1.85, 1.85, 1.85, 1.85, 1.85],
    [3.0, 2.8, 2.6, 2.2, 1.6, 1.7, 1.7, 1.7, 1.8, 1.75, 1.75, 1.8, 1.8, 1.85, 1.85, 1.85, 1.85, 1.85, 1.85, 1.85],
    [2.3, 2.5, 2.6, 2.3, 1.9, 1.7, 1.6, 1.55, 1.6, 1.6, 1.65, 1.7, 1.75, 1.8, 1.85, 1.85, 1.85, 1.85, 1.85, 1.85],
    [3.2, 2.8, 2.6, 2.5, 2.4, 2.3, 2.2, 2.1, 2.1, 1.9, 1.7, 1.65, 1.65, 1.7, 1.7, 1.75, 1.8, 1.85, 1.85, 1.85],
    [5.6, 6.2, 5.9, 5.1, 4.7, 3.9, 3.4, 3.1, 2.8, 2.5, 2.3, 2.1, 2.0, 1.9, 1.85, 1.85, 1.85, 1.85, 1.85, 1.85],
    [3.5, 3.5, 3.3, 2.7, 2.6, 2.4, 2.6, 2.6, 2.1, 1.6, 1.4, 1.4, 1.45, 1.5, 1.55, 1.6, 1.65, 1.7, 1.75, 1.8],
    [2.8, 2.4, 2.3, 2.3, 2.2, 2.2, 1.9, 1.7, 1.5, 1.25, 1.2, 1.2, 1.25, 1.3, 1.4, 1.45, 1.55, 1.6, 1.7, 1.75],
    [5.0, 4.2, 3.8, 3.3, 2.7, 2.2, 2.0, 1.9, 1.7, 1.6, 1.3, 1.25, 1.3, 1.35, 1.45, 1.5, 1.6, 1.65, 1.75, 1.8],
    [2.4, 2.3, 2.4, 2.3, 2.2, 2.0, 1.8, 1.7, 1.6, 1.5, 1.4, 1.4, 1.45, 1.5, 1.55, 1.6, 1.65, 1.7, 1.75, 1.8],
    [3.5, 3.3, 2.9, 2.5, 2.5, 2.4, 2.3, 2.2, 2.0, 1.5, 1.2, 1.25, 1.3, 1.35, 1.4, 1.5, 1.55, 1.65, 1.7, 1.75],
    [2.6, 2.6, 2.4, 2.3, 2.4, 2.3, 2.1, 2.1, 1.9, 1.6, 1.3, 1.3, 1.35, 1.4, 1.45, 1.5, 1.6, 1.65, 1.7, 1.75],
    [3.4, 2.9, 2.6, 2.4, 2.6, 2.3, 2.4, 2.2, 2.0, 1.7, 1.6, 1.6, 1.6, 1.65, 1.7, 1.75, 1.8, 1.85, 1.85, 1.85],
    [3.9, 3.9, 3.9, 3.6, 3.1, 2.6, 2.3, 2.1, 1.9, 1.75, 1.6, 1.6, 1.65, 1.7, 1.75, 1.8, 1.85, 1.85, 1.85, 1.85],
    [2.1, 2.3, 2.4, 2.4, 2.0, 1.7, 1.7, 1.5, 1.6, 1.8, 1.75, 1.75, 1.8, 1.8, 1.85, 1.85, 1.85, 1.85, 1.85, 1.85],
    [3.7, 4.0, 3.9, 3.3, 2.8, 2.4, 2.2, 2.1, 2.2, 2.1, 2.0, 1.9, 1.9, 1.85, 1.85, 1.85, 1.85, 1.85, 1.85, 1.85],
    [3.6, 3.4, 3.1, 2.6, 2.4, 2.2, 2.3, 2.3, 2.2, 2.0, 1.9, 1.85, 1.85, 1.85, 1.85, 1.85, 1.85, 1.85, 1.85, 1.85],
]

ink = '#333333'

fig = plt.figure(figsize=(9.55, 7.23), dpi=100)
ax = fig.add_axes([0.1162, 0.1346, 0.8489, 0.8032])

for group in (africa, west_south_asia, east_asia_pacific, latin_america, europe_north_america):
    for series in group:
        ax.plot(periods, series, color='black', lw=0.8)

ax.axvline(2002.5, color=ink, lw=1.0)

ax.set_xlim(1946, 2054)
ax.set_ylim(-0.32, 8.32)
ax.set_xticks([1960, 1980, 2000, 2020, 2040])
ax.set_yticks([0, 2, 4, 6, 8])
ax.tick_params(direction='out', length=7, width=0.8, color=ink, labelsize=11, pad=6)
for sp in ax.spines.values():
    sp.set_color(ink)
    sp.set_linewidth(1.0)

ax.text(2000.2, 0.5, 'Registro histórico', ha='right', va='center', fontsize=11)
ax.text(2004.9, 0.5, 'Proyecciones de Naciones Unidas', ha='left', va='center', fontsize=11)

fig.text(0.5405, 1 - 691 / 723, 'Período de cinco años', ha='center', va='center', fontsize=11)
fig.text(48 / 955, 1 - 340 / 723, 'Nacimientos', ha='center', va='center', rotation=90, fontsize=11)

# outer frame (top and left edges)
fig.add_artist(Line2D([11 / 955, 1], [1 - 7 / 723, 1 - 7 / 723], transform=fig.transFigure, color='#222222', lw=1.2))
fig.add_artist(Line2D([11 / 955, 11 / 955], [0, 1 - 7 / 723], transform=fig.transFigure, color='#222222', lw=1.2))

fig.savefig('out.png', dpi=100)
